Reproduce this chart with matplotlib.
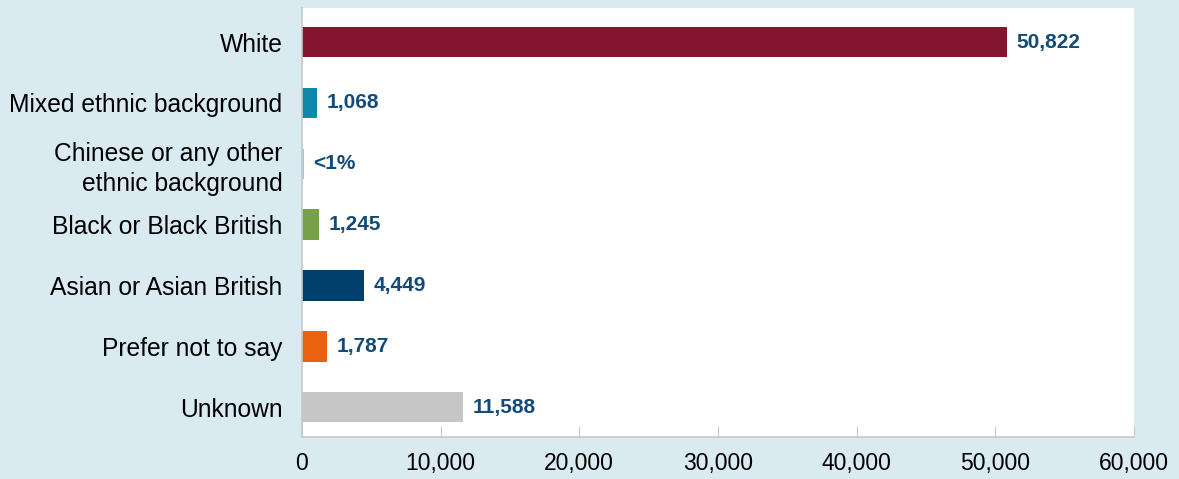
import matplotlib
matplotlib.use('Agg')
import matplotlib.pyplot as plt
import matplotlib.ticker as ticker

categories = ["White", "Mixed ethnic background", "Chinese or any other\nethnic background",
              "Black or Black British", "Asian or Asian British", "Prefer not to say", "Unknown"]
values = [50822, 1068, 120, 1245, 4449, 1787, 11588]
labels = ["50,822", "1,068", "<1%", "1,245", "4,449", "1,787", "11,588"]
colors = ["#85152f", "#0f87a6", "#8fd0e3", "#77a04a", "#003f6e", "#ec610f", "#c6c6c6"]

plt.rcParams['font.family'] = ['Liberation Sans', 'DejaVu Sans']

fig = plt.figure(figsize=(11.79, 4.79), dpi=100, facecolor="#d9eaf1")
ax = fig.add_axes([0.2561, 0.0877, 0.7057, 0.8956])

y = range(len(categories))
ax.barh(y, values, height=0.5, color=colors)
for i, (v, lab) in enumerate(zip(values, labels)):
    ax.text(v + 700, i, lab, va="center", ha="left", fontsize=15, fontweight="bold", color="#124b7a")

ax.set_xlim(0, 60000)
ax.set_ylim(6.49, -0.56)
ax.set_yticks(list(y))
ax.set_yticklabels(categories, fontsize=17.7, linespacing=1.3)
ax.tick_params(axis="y", length=0, pad=14)
ax.xaxis.set_major_locator(ticker.MultipleLocator(10000))
ax.xaxis.set_major_formatter(ticker.FuncFormatter(lambda x, pos: "{:,.0f}".format(x)))
ax.tick_params(axis="x", direction="in", length=8, color="#c8c8c8", labelsize=16.5, pad=11)

for s in ["top", "right"]:
    ax.spines[s].set_visible(False)
for s in ["left", "bottom"]:
    ax.spines[s].set_color("#c8c8c8")
    ax.spines[s].set_linewidth(1.2)

for lab in ax.get_yticklabels():
    lab.set_multialignment("right")

fig.savefig("out.png", dpi=100, facecolor=fig.get_facecolor())
